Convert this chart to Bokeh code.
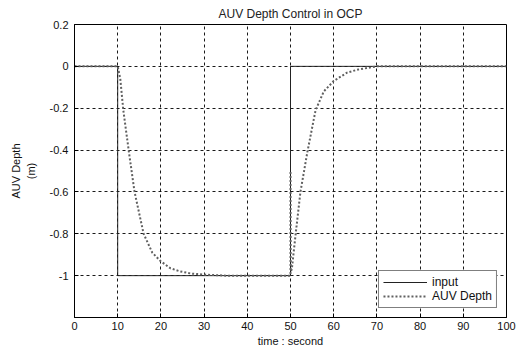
from bokeh.plotting import figure
from bokeh.models import Range1d, FixedTicker, Legend, LegendItem
from bokeh.embed import file_html
from bokeh.resources import INLINE

# --- data ---
input_time = [0, 10, 10, 50, 50, 100]
input_depth = [0, 0, -1, -1, 0, 0]

auv_time = [0, 10, 10.6, 11.3, 12.6, 13.9, 16.0, 18.0, 19.9, 22.2, 24.5, 27, 30, 35,
            50, 50, 50.05, 50.3, 51.2, 52.3, 53.9, 55.8, 57.7, 60, 63.1, 65.7, 70, 100]
auv_depth = [0, 0, -0.06, -0.21, -0.41, -0.60, -0.80, -0.89, -0.93, -0.965, -0.98, -0.99, -0.995, -1,
             -1, -0.5, -0.98, -0.97, -0.80, -0.60, -0.41, -0.21, -0.12, -0.07, -0.03, -0.015, 0, 0]

x_ticks = [0, 10, 20, 30, 40, 50, 60, 70, 80, 90, 100]
y_ticks = [0.2, 0, -0.2, -0.4, -0.6, -0.8, -1]
y_tick_labels = ["0.2", "0", "-0.2", "-0.4", "-0.6", "-0.8", "-1"]

FONT = "Liberation Sans"

p = figure(width=516, height=349, output_backend="svg", toolbar_location=None,
           x_range=Range1d(0, 100), y_range=Range1d(-1.2, 0.2),
           min_border_left=74, min_border_right=10, min_border_top=0, min_border_bottom=0)

p.title.text = "AUV Depth Control in OCP"
p.title.align = "center"
p.title.text_font = FONT
p.title.text_font_size = "12px"
p.title.text_font_style = "normal"
p.title.text_color = "#222222"
p.title.standoff = 8

p.outline_line_color = "black"
p.outline_line_width = 1
p.background_fill_color = "white"
p.border_fill_color = "white"

# axes
for ax in (p.xaxis, p.yaxis):
    ax.axis_line_color = "black"
    ax.major_tick_in = 4
    ax.major_tick_out = 0
    ax.minor_tick_line_color = None
    ax.major_tick_line_color = "black"
    ax.major_label_text_font = FONT
    ax.major_label_text_font_size = "11px"
    ax.major_label_text_color = "#111111"
    ax.axis_label_text_font = FONT
    ax.axis_label_text_font_size = "11px"
    ax.axis_label_text_font_style = "normal"
    ax.axis_label_text_color = "#111111"

p.xaxis.ticker = FixedTicker(ticks=x_ticks)
p.yaxis.ticker = FixedTicker(ticks=y_ticks)
p.yaxis.major_label_overrides = {t: l for t, l in zip(y_ticks, y_tick_labels)}
p.xaxis.axis_label = "time : second"
p.yaxis.axis_label = "AUV Depth\n(m)"
p.xaxis.major_label_standoff = 4
p.xaxis.axis_label_standoff = 2
p.yaxis.major_label_standoff = 6
p.yaxis.axis_label_standoff = 10

# grid
p.xgrid.ticker = FixedTicker(ticks=x_ticks)
p.ygrid.ticker = FixedTicker(ticks=y_ticks)
for g in (p.xgrid, p.ygrid):
    g.grid_line_color = "black"
    g.grid_line_dash = "3 3"
    g.grid_line_width = 1
    g.grid_line_alpha = 0.9

r_in = p.line(input_time, input_depth, line_color="#222222", line_width=1)
r_auv = p.line(auv_time, auv_depth, line_color="#606060", line_width=2, line_dash="2 2")

legend = Legend(items=[LegendItem(label="input", renderers=[r_in]),
                       LegendItem(label="AUV Depth", renderers=[r_auv])],
                location="bottom_right")
legend.label_text_font = FONT
legend.label_text_font_size = "12px"
legend.label_text_color = "#111111"
legend.border_line_color = "black"
legend.border_line_width = 1
legend.background_fill_color = "white"
legend.background_fill_alpha = 1
legend.margin = 9
legend.padding = 4
legend.spacing = 0
legend.glyph_height = 14
legend.label_height = 14
legend.glyph_width = 44
legend.label_standoff = 5
p.add_layout(legend, "center")

open("out.html", "w").write(file_html(p, INLINE))
